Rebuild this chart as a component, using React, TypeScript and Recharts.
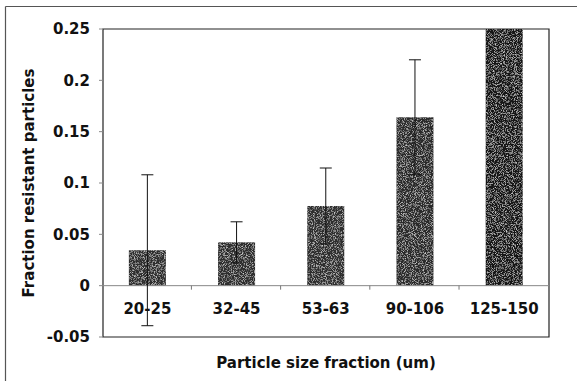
import React from 'react';
import {
  BarChart,
  Bar,
  XAxis,
  YAxis,
  ErrorBar,
  LabelList,
  ReferenceLine,
  ReferenceArea,
  Cell,
} from 'recharts';

document.body.style.margin = '0';

const sizes = ['20-25', '32-45', '53-63', '90-106', '125-150'];
const fraction = [0.0345, 0.0422, 0.0776, 0.164, 0.25];
const spread: (number | null)[] = [0.0735, 0.02, 0.037, 0.056, null];
const yTicks = [-0.05, 0, 0.05, 0.1, 0.15, 0.2, 0.25];
const barFills = ['#2e2e2e', '#2e2e2e', '#2e2e2e', '#2a2a2a', '#141414'];

const data = sizes.map((name, i) => ({ name, value: fraction[i], err: spread[i] }));

const GAP = 0.29;
const FONT = '"DejaVu Sans", Verdana, sans-serif';
const FS = 15;
const textStyle = { fontFamily: FONT, fontWeight: 'bold', fontSize: FS, fill: '#111' };

// grain filter for the bars, plus the outer frame (open on the right and bottom)
const Overlay = () => (
  <svg width={577} height={381} style={{ position: 'absolute', left: 0, top: 0, pointerEvents: 'none' }}>
    <defs>
      <filter id="grain" x="0" y="0" width="100%" height="100%">
        <feTurbulence type="fractalNoise" baseFrequency="1.1" numOctaves={2} seed={4} result="n" />
        <feColorMatrix
          in="n"
          type="matrix"
          values="0 0 0 0 0.75  0 0 0 0 0.75  0 0 0 0 0.75  2.2 0 0 0 -1.05"
          result="w"
        />
        <feComposite in="w" in2="SourceGraphic" operator="in" result="wc" />
        <feMerge>
          <feMergeNode in="SourceGraphic" />
          <feMergeNode in="wc" />
        </feMerge>
      </filter>
    </defs>
    <line x1={5.5} y1={6.5} x2={577} y2={6.5} stroke="#555" strokeWidth={1.2} />
    <line x1={5.5} y1={6.5} x2={5.5} y2={381} stroke="#555" strokeWidth={1.2} />
  </svg>
);

const GrainBar = (p: any) => (
  <rect x={p.x} y={p.y} width={p.width} height={p.height} fill={p.fill} filter="url(#grain)" />
);

// category label under the zero line plus the separator tick to its right
const CategoryLabel = (p: any) => {
  const vb = p.viewBox ?? p;
  const cx = vb.x + vb.width / 2;
  const zeroY = vb.y + vb.height;
  const band = vb.width / (1 - 2 * GAP);
  return (
    <g>
      {p.index < sizes.length - 1 && (
        <line x1={cx + band / 2} x2={cx + band / 2} y1={zeroY} y2={zeroY + 4} stroke="#777" />
      )}
      <text x={cx} y={zeroY + 28} textAnchor="middle" {...textStyle}>
        {p.value}
      </text>
    </g>
  );
};

export default function App() {
  return (
    <div style={{ width: 577, height: 381, position: 'relative', overflow: 'hidden', background: '#fff' }}>
      <div style={{ position: 'absolute', left: 0, top: 0 }}>
        <BarChart
          width={577}
          height={381}
          data={data}
          margin={{ top: 29, right: 28, left: 43, bottom: 0 }}
          barCategoryGap={`${GAP * 100}%`}
        >
          <XAxis
            dataKey="name"
            height={44}
            axisLine={false}
            tickLine={false}
            tick={false}
            label={{ value: 'Particle size fraction (um)', position: 'center', dy: 4, style: textStyle }}
          />
          <YAxis
            width={60}
            domain={[-0.05, 0.25]}
            ticks={yTicks}
            interval={0}
            tickSize={4}
            tickMargin={9}
            tickLine={{ stroke: '#888' }}
            axisLine={false}
            tickFormatter={(v: number) => String(v)}
            tick={textStyle}
            label={{
              value: 'Fraction resistant particles',
              angle: -90,
              position: 'center',
              dx: -44,
              style: { ...textStyle, textAnchor: 'middle' },
            }}
          />
          <ReferenceArea y1={-0.05} y2={0.25} fill="none" stroke="#222" strokeWidth={1.2} />
          <ReferenceLine y={0} stroke="#888" strokeWidth={1} />
          <Bar dataKey="value" shape={GrainBar} isAnimationActive={false}>
            {data.map((d, i) => (
              <Cell key={d.name} fill={barFills[i]} />
            ))}
            <ErrorBar dataKey="err" width={6} stroke="#111" strokeWidth={1} direction="y" />
            <LabelList dataKey="name" content={CategoryLabel} />
          </Bar>
        </BarChart>
      </div>
      <Overlay />
    </div>
  );
}
